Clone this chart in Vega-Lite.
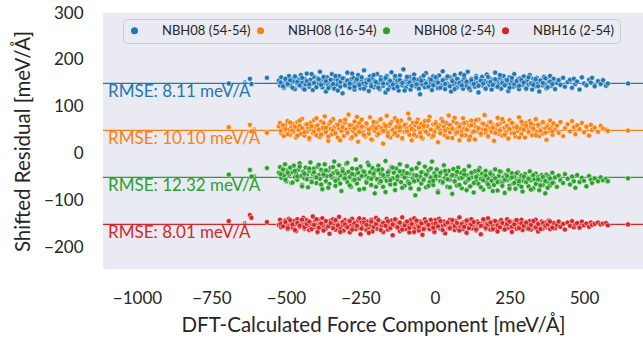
{
"$schema":"https://vega.github.io/schema/vega-lite/v6.json",
"width":540,"height":256,
"autosize":{"type":"none"},
"padding":{"left":103,"top":13,"right":0,"bottom":78},
"config":{
 "font":"Lato",
 "view":{"fill":"#EAEAF2","stroke":null},
 "axis":{"grid":false,"domain":false,"ticks":false,"labelFontSize":17,"labelColor":"#262626","titleFontSize":20.5,"titleColor":"#262626","titleFontWeight":"normal","labelFont":"Lato","titleFont":"Lato"},
 "axisX":{"labelPadding":21,"titlePadding":9},
 "axisY":{"labelPadding":20,"titlePadding":10}
},
"datasets":{
"lines":[{"y":150,"g":"NBH08 (54-54)"},{"y":50,"g":"NBH08 (16-54)"},{"y":-50,"g":"NBH08 (2-54)"},{"y":-150,"g":"NBH16 (2-54)"}],
"notes":[{"x":-1097,"y":121,"t":"RMSE: 8.11 meV/Å","g":"NBH08 (54-54)"},{"x":-1097,"y":21,"t":"RMSE: 10.10 meV/Å","g":"NBH08 (16-54)"},{"x":-1097,"y":-79,"t":"RMSE: 12.32 meV/Å","g":"NBH08 (2-54)"},{"x":-1097,"y":-179,"t":"RMSE: 8.01 meV/Å","g":"NBH16 (2-54)"}],
"pts":[
{"x":-692,"b":150,"o":57,"g":-44,"r":-143},
{"x":-621,"b":160,"o":62,"g":-34,"r":-130},
{"x":-616,"b":149,"o":48,"g":-48,"r":-136},
{"x":-564,"b":162,"o":45,"g":-30,"r":-145},
{"x":-524,"b":156,"o":59,"g":-40,"r":-151},
{"x":-520,"b":146,"o":66,"g":-28,"r":-140},
{"x":-516,"b":163,"o":44,"g":-51,"r":-156},
{"x":-511,"b":150,"o":55,"g":-37,"r":-147},
{"x":-507,"b":141,"o":38,"g":-46,"r":-153},
{"x":-503,"b":158,"o":62,"g":-22,"r":-142},
{"x":-499,"b":153,"o":49,"g":-58,"r":-149},
{"x":-495,"b":147,"o":70,"g":-35,"r":-160},
{"x":-490,"b":166,"o":52,"g":-44,"r":-138},
{"x":-486,"b":151,"o":41,"g":-30,"r":-152},
{"x":-482,"b":144,"o":58,"g":-62,"r":-146},
{"x":-478,"b":159,"o":64,"g":-39,"r":-157},
{"x":-474,"b":155,"o":47,"g":-25,"r":-143},
{"x":-470,"b":138,"o":56,"g":-49,"r":-150},
{"x":-466,"b":162,"o":35,"g":-41,"r":-164},
{"x":-462,"b":149,"o":68,"g":-55,"r":-139},
{"x":-458,"b":157,"o":51,"g":-33,"r":-148},
{"x":-454,"b":145,"o":60,"g":-20,"r":-155},
{"x":-450,"b":168,"o":43,"g":-47,"r":-144},
{"x":-446,"b":152,"o":75,"g":-66,"r":-151},
{"x":-442,"b":140,"o":54,"g":-38,"r":-136},
{"x":-438,"b":160,"o":39,"g":-52,"r":-159},
{"x":-434,"b":148,"o":63,"g":-29,"r":-147},
{"x":-430,"b":171,"o":48,"g":-44,"r":-141},
{"x":-426,"b":154,"o":57,"g":-71,"r":-153},
{"x":-422,"b":143,"o":31,"g":-36,"r":-162},
{"x":-418,"b":158,"o":66,"g":-18,"r":-145},
{"x":-414,"b":150,"o":52,"g":-57,"r":-149},
{"x":-410,"b":136,"o":45,"g":-43,"r":-133},
{"x":-406,"b":164,"o":72,"g":-31,"r":-156},
{"x":-402,"b":153,"o":58,"g":-49,"r":-143},
{"x":-398,"b":146,"o":40,"g":-62,"r":-151},
{"x":-394,"b":161,"o":61,"g":-27,"r":-166},
{"x":-390,"b":149,"o":50,"g":-45,"r":-140},
{"x":-386,"b":175,"o":36,"g":-53,"r":-148},
{"x":-382,"b":155,"o":69,"g":-34,"r":-157},
{"x":-378,"b":142,"o":55,"g":-75,"r":-137},
{"x":-374,"b":159,"o":44,"g":-40,"r":-152},
{"x":-370,"b":151,"o":80,"g":-22,"r":-146},
{"x":-366,"b":133,"o":47,"g":-58,"r":-159},
{"x":-362,"b":163,"o":59,"g":-47,"r":-144},
{"x":-358,"b":147,"o":28,"g":-35,"r":-150},
{"x":-354,"b":156,"o":65,"g":-64,"r":-170},
{"x":-350,"b":144,"o":53,"g":-29,"r":-142},
{"x":-346,"b":170,"o":42,"g":-50,"r":-154},
{"x":-342,"b":152,"o":74,"g":-41,"r":-139},
{"x":-338,"b":139,"o":57,"g":-16,"r":-148},
{"x":-334,"b":160,"o":46,"g":-68,"r":-161},
{"x":-330,"b":148,"o":63,"g":-37,"r":-145},
{"x":-326,"b":157,"o":35,"g":-55,"r":-153},
{"x":-322,"b":166,"o":55,"g":-24,"r":-134},
{"x":-318,"b":143,"o":70,"g":-46,"r":-158},
{"x":-314,"b":154,"o":49,"g":-79,"r":-147},
{"x":-310,"b":129,"o":60,"g":-33,"r":-151},
{"x":-306,"b":161,"o":38,"g":-52,"r":-163},
{"x":-302,"b":150,"o":67,"g":-42,"r":-141},
{"x":-298,"b":145,"o":52,"g":-21,"r":-156},
{"x":-294,"b":173,"o":44,"g":-60,"r":-149},
{"x":-290,"b":156,"o":84,"g":-38,"r":-143},
{"x":-286,"b":141,"o":57,"g":-49,"r":-167},
{"x":-282,"b":159,"o":33,"g":-70,"r":-152},
{"x":-278,"b":149,"o":62,"g":-31,"r":-138},
{"x":-274,"b":162,"o":48,"g":-56,"r":-155},
{"x":-270,"b":137,"o":69,"g":-44,"r":-146},
{"x":-266,"b":155,"o":41,"g":-12,"r":-160},
{"x":-262,"b":146,"o":58,"g":-63,"r":-150},
{"x":-258,"b":168,"o":26,"g":-40,"r":-142},
{"x":-254,"b":152,"o":66,"g":-53,"r":-157},
{"x":-250,"b":140,"o":51,"g":-27,"r":-171},
{"x":-246,"b":158,"o":73,"g":-48,"r":-145},
{"x":-242,"b":150,"o":45,"g":-36,"r":-153},
{"x":-238,"b":178,"o":59,"g":-74,"r":-139},
{"x":-234,"b":144,"o":37,"g":-45,"r":-148},
{"x":-230,"b":157,"o":64,"g":-58,"r":-162},
{"x":-226,"b":153,"o":54,"g":-19,"r":-144},
{"x":-222,"b":134,"o":43,"g":-51,"r":-156},
{"x":-218,"b":165,"o":78,"g":-39,"r":-151},
{"x":-214,"b":149,"o":56,"g":-66,"r":-140},
{"x":-210,"b":160,"o":30,"g":-30,"r":-165},
{"x":-206,"b":142,"o":61,"g":-47,"r":-147},
{"x":-202,"b":155,"o":49,"g":-84,"r":-154},
{"x":-198,"b":147,"o":67,"g":-35,"r":-136},
{"x":-194,"b":170,"o":40,"g":-54,"r":-159},
{"x":-190,"b":151,"o":58,"g":-25,"r":-149},
{"x":-186,"b":138,"o":72,"g":-61,"r":-143},
{"x":-182,"b":163,"o":46,"g":-42,"r":-158},
{"x":-178,"b":154,"o":55,"g":-33,"r":-152},
{"x":-174,"b":145,"o":22,"g":-70,"r":-166},
{"x":-170,"b":159,"o":63,"g":-49,"r":-145},
{"x":-166,"b":131,"o":51,"g":-15,"r":-150},
{"x":-162,"b":166,"o":81,"g":-57,"r":-138},
{"x":-158,"b":150,"o":44,"g":-44,"r":-161},
{"x":-154,"b":157,"o":60,"g":-36,"r":-147},
{"x":-150,"b":143,"o":35,"g":-65,"r":-155},
{"x":-146,"b":174,"o":68,"g":-28,"r":-142},
{"x":-142,"b":152,"o":53,"g":-52,"r":-173},
{"x":-138,"b":140,"o":42,"g":-40,"r":-149},
{"x":-134,"b":161,"o":76,"g":-77,"r":-153},
{"x":-130,"b":148,"o":57,"g":-31,"r":-140},
{"x":-126,"b":156,"o":39,"g":-55,"r":-157},
{"x":-122,"b":135,"o":65,"g":-46,"r":-146},
{"x":-118,"b":167,"o":50,"g":-22,"r":-164},
{"x":-114,"b":151,"o":71,"g":-60,"r":-151},
{"x":-110,"b":146,"o":32,"g":-43,"r":-135},
{"x":-106,"b":180,"o":59,"g":-37,"r":-156},
{"x":-102,"b":154,"o":47,"g":-68,"r":-148},
{"x":-98,"b":141,"o":63,"g":-50,"r":-160},
{"x":-94,"b":159,"o":54,"g":-26,"r":-144},
{"x":-90,"b":149,"o":86,"g":-59,"r":-152},
{"x":-86,"b":164,"o":41,"g":-41,"r":-167},
{"x":-82,"b":137,"o":58,"g":-73,"r":-141},
{"x":-78,"b":155,"o":29,"g":-34,"r":-155},
{"x":-74,"b":147,"o":66,"g":-52,"r":-149},
{"x":-70,"b":169,"o":50,"g":-45,"r":-137},
{"x":-66,"b":152,"o":61,"g":-88,"r":-158},
{"x":-62,"b":143,"o":38,"g":-30,"r":-146},
{"x":-58,"b":158,"o":73,"g":-56,"r":-153},
{"x":-54,"b":150,"o":55,"g":-20,"r":-163},
{"x":-50,"b":127,"o":45,"g":-48,"r":-144},
{"x":-46,"b":162,"o":64,"g":-63,"r":-150},
{"x":-42,"b":148,"o":33,"g":-39,"r":-172},
{"x":-38,"b":156,"o":57,"g":-55,"r":-147},
{"x":-34,"b":142,"o":70,"g":-27,"r":-139},
{"x":-30,"b":172,"o":48,"g":-71,"r":-157},
{"x":-26,"b":153,"o":59,"g":-44,"r":-151},
{"x":-22,"b":145,"o":42,"g":-35,"r":-145},
{"x":-18,"b":160,"o":79,"g":-60,"r":-160},
{"x":-14,"b":149,"o":52,"g":-50,"r":-142},
{"x":-10,"b":136,"o":36,"g":-16,"r":-154},
{"x":-6,"b":165,"o":63,"g":-66,"r":-148},
{"x":-2,"b":154,"o":47,"g":-41,"r":-166},
{"x":2,"b":147,"o":68,"g":-53,"r":-141},
{"x":6,"b":158,"o":55,"g":-33,"r":-156},
{"x":10,"b":140,"o":25,"g":-79,"r":-150},
{"x":14,"b":167,"o":61,"g":-46,"r":-138},
{"x":18,"b":151,"o":50,"g":-58,"r":-159},
{"x":22,"b":144,"o":74,"g":-38,"r":-147},
{"x":26,"b":176,"o":44,"g":-62,"r":-153},
{"x":30,"b":155,"o":58,"g":-24,"r":-144},
{"x":34,"b":138,"o":39,"g":-51,"r":-169},
{"x":38,"b":161,"o":66,"g":-43,"r":-152},
{"x":42,"b":150,"o":53,"g":-70,"r":-146},
{"x":46,"b":146,"o":82,"g":-36,"r":-158},
{"x":50,"b":163,"o":46,"g":-55,"r":-140},
{"x":54,"b":133,"o":60,"g":-47,"r":-151},
{"x":58,"b":157,"o":34,"g":-85,"r":-155},
{"x":62,"b":149,"o":70,"g":-32,"r":-148},
{"x":66,"b":168,"o":52,"g":-59,"r":-162},
{"x":70,"b":152,"o":43,"g":-44,"r":-143},
{"x":74,"b":142,"o":65,"g":-67,"r":-157},
{"x":78,"b":159,"o":56,"g":-29,"r":-150},
{"x":82,"b":147,"o":29,"g":-52,"r":-135},
{"x":86,"b":171,"o":62,"g":-40,"r":-154},
{"x":90,"b":154,"o":48,"g":-73,"r":-147},
{"x":94,"b":139,"o":76,"g":-49,"r":-160},
{"x":98,"b":162,"o":54,"g":-35,"r":-145},
{"x":102,"b":150,"o":40,"g":-61,"r":-152},
{"x":106,"b":145,"o":67,"g":-45,"r":-168},
{"x":110,"b":175,"o":51,"g":-56,"r":-141},
{"x":114,"b":153,"o":59,"g":-26,"r":-156},
{"x":118,"b":136,"o":37,"g":-69,"r":-149},
{"x":122,"b":160,"o":71,"g":-50,"r":-139},
{"x":126,"b":148,"o":46,"g":-41,"r":-158},
{"x":130,"b":156,"o":63,"g":-82,"r":-151},
{"x":134,"b":143,"o":31,"g":-37,"r":-146},
{"x":138,"b":166,"o":57,"g":-58,"r":-163},
{"x":142,"b":151,"o":49,"g":-46,"r":-144},
{"x":146,"b":131,"o":73,"g":-64,"r":-155},
{"x":150,"b":158,"o":54,"g":-30,"r":-150},
{"x":154,"b":149,"o":41,"g":-53,"r":-171},
{"x":158,"b":164,"o":65,"g":-42,"r":-147},
{"x":162,"b":145,"o":52,"g":-76,"r":-153},
{"x":166,"b":155,"o":83,"g":-48,"r":-142},
{"x":170,"b":140,"o":45,"g":-36,"r":-159},
{"x":174,"b":169,"o":60,"g":-61,"r":-148},
{"x":178,"b":152,"o":36,"g":-52,"r":-137},
{"x":182,"b":147,"o":68,"g":-70,"r":-154},
{"x":186,"b":160,"o":55,"g":-39,"r":-161},
{"x":190,"b":137,"o":47,"g":-57,"r":-146},
{"x":194,"b":157,"o":62,"g":-45,"r":-152},
{"x":198,"b":150,"o":28,"g":-66,"r":-143},
{"x":202,"b":173,"o":58,"g":-33,"r":-158},
{"x":206,"b":144,"o":50,"g":-54,"r":-150},
{"x":210,"b":156,"o":77,"g":-78,"r":-165},
{"x":214,"b":148,"o":43,"g":-47,"r":-145},
{"x":218,"b":162,"o":64,"g":-59,"r":-155},
{"x":222,"b":139,"o":53,"g":-38,"r":-141},
{"x":226,"b":154,"o":39,"g":-62,"r":-149},
{"x":230,"b":166,"o":69,"g":-50,"r":-160},
{"x":234,"b":146,"o":56,"g":-83,"r":-147},
{"x":238,"b":158,"o":46,"g":-44,"r":-153},
{"x":242,"b":151,"o":61,"g":-56,"r":-139},
{"x":246,"b":134,"o":33,"g":-35,"r":-157},
{"x":250,"b":163,"o":72,"g":-68,"r":-150},
{"x":254,"b":149,"o":52,"g":-52,"r":-144},
{"x":258,"b":156,"o":44,"g":-41,"r":-166},
{"x":262,"b":143,"o":65,"g":-63,"r":-148},
{"x":266,"b":170,"o":57,"g":-49,"r":-155},
{"x":270,"b":152,"o":37,"g":-74,"r":-142},
{"x":274,"b":145,"o":60,"g":-57,"r":-159},
{"x":278,"b":159,"o":49,"g":-39,"r":-151},
{"x":282,"b":138,"o":78,"g":-65,"r":-146},
{"x":286,"b":161,"o":54,"g":-53,"r":-156},
{"x":290,"b":150,"o":42,"g":-46,"r":-140},
{"x":294,"b":147,"o":63,"g":-80,"r":-162},
{"x":298,"b":165,"o":51,"g":-58,"r":-149},
{"x":302,"b":153,"o":35,"g":-43,"r":-153},
{"x":306,"b":141,"o":66,"g":-60,"r":-145},
{"x":310,"b":157,"o":56,"g":-51,"r":-158},
{"x":314,"b":148,"o":45,"g":-69,"r":-150},
{"x":318,"b":168,"o":70,"g":-37,"r":-143},
{"x":322,"b":151,"o":58,"g":-56,"r":-161},
{"x":326,"b":137,"o":40,"g":-47,"r":-154},
{"x":330,"b":160,"o":62,"g":-73,"r":-147},
{"x":334,"b":154,"o":50,"g":-54,"r":-157},
{"x":338,"b":144,"o":74,"g":-42,"r":-140},
{"x":342,"b":162,"o":47,"g":-62,"r":-152},
{"x":346,"b":150,"o":59,"g":-49,"r":-165},
{"x":350,"b":133,"o":38,"g":-77,"r":-148},
{"x":354,"b":158,"o":64,"g":-55,"r":-155},
{"x":358,"b":152,"o":53,"g":-45,"r":-144},
{"x":362,"b":146,"o":43,"g":-66,"r":-159},
{"x":366,"b":164,"o":67,"g":-52,"r":-150},
{"x":370,"b":149,"o":55,"g":-84,"r":-146},
{"x":374,"b":140,"o":30,"g":-44,"r":-156},
{"x":378,"b":157,"o":61,"g":-59,"r":-152},
{"x":382,"b":153,"o":49,"g":-48,"r":-142},
{"x":386,"b":166,"o":71,"g":-67,"r":-160},
{"x":390,"b":145,"o":57,"g":-55,"r":-149},
{"x":394,"b":155,"o":41,"g":-40,"r":-154},
{"x":398,"b":160,"o":65,"g":-61,"r":-147},
{"x":403,"b":138,"o":52,"g":-50,"r":-158},
{"x":409,"b":151,"o":60,"g":-70,"r":-151},
{"x":415,"b":157,"o":45,"g":-46,"r":-144},
{"x":421,"b":147,"o":68,"g":-56,"r":-155},
{"x":430,"b":162,"o":38,"g":-62,"r":-149},
{"x":436,"b":143,"o":55,"g":-43,"r":-161},
{"x":445,"b":153,"o":63,"g":-53,"r":-146},
{"x":453,"b":158,"o":48,"g":-65,"r":-153},
{"x":460,"b":141,"o":70,"g":-48,"r":-143},
{"x":466,"b":160,"o":57,"g":-58,"r":-156},
{"x":471,"b":149,"o":42,"g":-72,"r":-150},
{"x":477,"b":154,"o":61,"g":-45,"r":-147},
{"x":485,"b":137,"o":53,"g":-60,"r":-157},
{"x":493,"b":163,"o":66,"g":-51,"r":-144},
{"x":500,"b":150,"o":46,"g":-57,"r":-152},
{"x":508,"b":146,"o":58,"g":-69,"r":-148},
{"x":517,"b":158,"o":39,"g":-47,"r":-155},
{"x":523,"b":152,"o":62,"g":-55,"r":-146},
{"x":527,"b":162,"o":51,"g":-62,"r":-151},
{"x":536,"b":144,"o":56,"g":-52,"r":-149},
{"x":547,"b":155,"o":47,"g":-58,"r":-146},
{"x":556,"b":149,"o":60,"g":-50,"r":-150},
{"x":564,"b":157,"o":54,"g":-56,"r":-148},
{"x":574,"b":145,"o":52,"g":-53,"r":-147},
{"x":580,"b":150,"o":49,"g":-58,"r":-152},
{"x":648,"b":150,"o":50,"g":-52,"r":-150},
{"x":-518,"b":152,"o":49,"g":-43,"r":-149},
{"x":-510,"b":144,"o":61,"g":-33,"r":-154},
{"x":-502,"b":160,"o":53,"g":-55,"r":-145},
{"x":-494,"b":149,"o":42,"g":-40,"r":-158},
{"x":-486,"b":157,"o":67,"g":-29,"r":-141},
{"x":-478,"b":141,"o":50,"g":-61,"r":-150},
{"x":-470,"b":165,"o":58,"g":-36,"r":-162},
{"x":-462,"b":153,"o":39,"g":-48,"r":-147},
{"x":-454,"b":146,"o":71,"g":-27,"r":-153},
{"x":-446,"b":162,"o":55,"g":-69,"r":-140},
{"x":-438,"b":137,"o":46,"g":-42,"r":-156},
{"x":-430,"b":155,"o":63,"g":-54,"r":-149},
{"x":-422,"b":148,"o":34,"g":-31,"r":-144},
{"x":-414,"b":170,"o":59,"g":-60,"r":-160},
{"x":-406,"b":151,"o":48,"g":-39,"r":-151},
{"x":-398,"b":142,"o":76,"g":-50,"r":-139},
{"x":-390,"b":159,"o":52,"g":-23,"r":-157},
{"x":-382,"b":147,"o":41,"g":-65,"r":-148},
{"x":-374,"b":164,"o":66,"g":-44,"r":-163},
{"x":-366,"b":155,"o":56,"g":-35,"r":-143},
{"x":-358,"b":140,"o":37,"g":-72,"r":-154},
{"x":-350,"b":158,"o":69,"g":-46,"r":-147},
{"x":-342,"b":149,"o":50,"g":-28,"r":-158},
{"x":-334,"b":166,"o":44,"g":-57,"r":-141},
{"x":-326,"b":135,"o":62,"g":-41,"r":-152},
{"x":-318,"b":153,"o":29,"g":-63,"r":-166},
{"x":-310,"b":161,"o":57,"g":-37,"r":-145},
{"x":-302,"b":146,"o":73,"g":-52,"r":-150},
{"x":-294,"b":156,"o":45,"g":-19,"r":-156},
{"x":-286,"b":150,"o":61,"g":-67,"r":-143},
{"x":-278,"b":171,"o":36,"g":-43,"r":-161},
{"x":-270,"b":143,"o":54,"g":-55,"r":-148},
{"x":-262,"b":159,"o":79,"g":-32,"r":-153},
{"x":-254,"b":147,"o":47,"g":-76,"r":-137},
{"x":-246,"b":163,"o":58,"g":-47,"r":-159},
{"x":-238,"b":139,"o":40,"g":-38,"r":-146},
{"x":-230,"b":152,"o":65,"g":-61,"r":-151},
{"x":-222,"b":157,"o":52,"g":-24,"r":-168},
{"x":-214,"b":144,"o":31,"g":-53,"r":-144},
{"x":-206,"b":168,"o":68,"g":-42,"r":-155},
{"x":-198,"b":153,"o":55,"g":-70,"r":-149},
{"x":-190,"b":141,"o":43,"g":-34,"r":-141},
{"x":-182,"b":158,"o":74,"g":-58,"r":-162},
{"x":-174,"b":150,"o":49,"g":-45,"r":-147},
{"x":-166,"b":162,"o":60,"g":-81,"r":-153},
{"x":-158,"b":137,"o":38,"g":-39,"r":-143},
{"x":-150,"b":155,"o":64,"g":-56,"r":-158},
{"x":-142,"b":148,"o":51,"g":-29,"r":-150},
{"x":-134,"b":166,"o":45,"g":-64,"r":-139},
{"x":-126,"b":143,"o":70,"g":-48,"r":-156},
{"x":-118,"b":157,"o":57,"g":-37,"r":-146},
{"x":-110,"b":151,"o":34,"g":-72,"r":-161},
{"x":-102,"b":135,"o":62,"g":-50,"r":-152},
{"x":-94,"b":164,"o":48,"g":-41,"r":-144},
{"x":-86,"b":152,"o":75,"g":-63,"r":-157},
{"x":-78,"b":145,"o":53,"g":-33,"r":-149},
{"x":-70,"b":160,"o":41,"g":-58,"r":-166},
{"x":-62,"b":148,"o":67,"g":-46,"r":-142},
{"x":-54,"b":139,"o":56,"g":-75,"r":-155},
{"x":-46,"b":156,"o":36,"g":-39,"r":-148},
{"x":-38,"b":167,"o":60,"g":-55,"r":-160},
{"x":-30,"b":150,"o":47,"g":-44,"r":-145},
{"x":-22,"b":143,"o":71,"g":-68,"r":-151},
{"x":-14,"b":158,"o":52,"g":-31,"r":-140},
{"x":-6,"b":146,"o":39,"g":-57,"r":-157},
{"x":2,"b":163,"o":64,"g":-47,"r":-148},
{"x":10,"b":152,"o":57,"g":-82,"r":-154},
{"x":18,"b":141,"o":44,"g":-40,"r":-143},
{"x":26,"b":157,"o":69,"g":-60,"r":-162},
{"x":34,"b":149,"o":50,"g":-36,"r":-150},
{"x":42,"b":165,"o":35,"g":-54,"r":-146},
{"x":50,"b":144,"o":62,"g":-71,"r":-158},
{"x":58,"b":155,"o":54,"g":-45,"r":-141},
{"x":66,"b":138,"o":77,"g":-58,"r":-153},
{"x":74,"b":160,"o":46,"g":-38,"r":-147},
{"x":82,"b":151,"o":58,"g":-66,"r":-163},
{"x":90,"b":146,"o":40,"g":-51,"r":-149},
{"x":98,"b":168,"o":66,"g":-44,"r":-155},
{"x":106,"b":154,"o":52,"g":-77,"r":-142},
{"x":114,"b":140,"o":30,"g":-53,"r":-158},
{"x":122,"b":157,"o":61,"g":-40,"r":-150},
{"x":130,"b":149,"o":48,"g":-62,"r":-145},
{"x":138,"b":162,"o":72,"g":-49,"r":-161},
{"x":146,"b":145,"o":55,"g":-35,"r":-148},
{"x":154,"b":156,"o":43,"g":-71,"r":-153},
{"x":162,"b":150,"o":64,"g":-56,"r":-139},
{"x":170,"b":139,"o":51,"g":-46,"r":-157},
{"x":178,"b":164,"o":38,"g":-65,"r":-150},
{"x":186,"b":153,"o":68,"g":-42,"r":-146},
{"x":194,"b":147,"o":56,"g":-79,"r":-160},
{"x":202,"b":159,"o":45,"g":-52,"r":-143},
{"x":210,"b":143,"o":62,"g":-60,"r":-152},
{"x":218,"b":168,"o":50,"g":-37,"r":-156},
{"x":226,"b":151,"o":74,"g":-68,"r":-147},
{"x":234,"b":146,"o":41,"g":-55,"r":-161},
{"x":242,"b":157,"o":59,"g":-47,"r":-149},
{"x":250,"b":141,"o":53,"g":-74,"r":-144},
{"x":258,"b":162,"o":66,"g":-50,"r":-155},
{"x":266,"b":149,"o":44,"g":-62,"r":-150},
{"x":274,"b":155,"o":57,"g":-41,"r":-141},
{"x":282,"b":145,"o":35,"g":-58,"r":-158},
{"x":290,"b":158,"o":69,"g":-70,"r":-148},
{"x":298,"b":152,"o":52,"g":-48,"r":-153},
{"x":306,"b":139,"o":60,"g":-60,"r":-146},
{"x":314,"b":163,"o":47,"g":-53,"r":-159},
{"x":322,"b":150,"o":65,"g":-76,"r":-151},
{"x":330,"b":147,"o":54,"g":-45,"r":-143},
{"x":338,"b":159,"o":40,"g":-64,"r":-156},
{"x":346,"b":144,"o":62,"g":-54,"r":-149},
{"x":354,"b":156,"o":50,"g":-67,"r":-160},
{"x":362,"b":151,"o":68,"g":-49,"r":-147},
{"x":370,"b":161,"o":45,"g":-58,"r":-153},
{"x":378,"b":142,"o":57,"g":-72,"r":-150},
{"x":386,"b":154,"o":53,"g":-52,"r":-144},
{"x":394,"b":149,"o":48,"g":-62,"r":-157}
]},
"encoding":{
 "x":{"field":"x","type":"quantitative","scale":{"domain":[-1114,698],"nice":false,"zero":false},"axis":{"values":[-1000,-750,-500,-250,0,250,500],"format":"d","title":"DFT-Calculated Force Component [meV/Å]"}}
},
"layer":[
 {"data":{"name":"lines"},"mark":{"type":"rule","strokeWidth":1.2},
  "encoding":{"x":null,"y":{"field":"y","type":"quantitative","scale":{"domain":[-245,300],"nice":false,"zero":false},"axis":{"values":[-200,-100,0,100,200,300],"format":"d","title":"Shifted Residual [meV/Å]"}},
   "stroke":{"field":"g","type":"nominal","legend":null,"scale":{"domain":["NBH08 (16-54)","NBH08 (2-54)","NBH08 (54-54)","NBH16 (2-54)"],"range":["#ff7f0e","#2ca02c","#1f77b4","#d62728"]}}}},
 {"data":{"name":"pts"},"mark":{"type":"point","filled":true,"size":26,"opacity":1,"stroke":"white","strokeWidth":0.5},
  "encoding":{"y":{"field":"b","type":"quantitative"},"color":{"datum":"NBH08 (54-54)","type":"nominal","scale":{"domain":["NBH08 (54-54)","NBH08 (16-54)","NBH08 (2-54)","NBH16 (2-54)"],"range":["#1f77b4","#ff7f0e","#2ca02c","#d62728"]},
   "legend":{"orient":"none","legendX":20,"legendY":6,"direction":"horizontal","title":null,"fillColor":"#EAEAF2","strokeColor":"#cccccc","cornerRadius":4,"padding":5,"labelFont":"Lato","labelFontSize":13,"labelColor":"#262626","symbolType":"circle","symbolSize":50,"symbolStrokeWidth":0,"labelOffset":21,"columnPadding":3}}}},
 {"data":{"name":"pts"},"mark":{"type":"point","filled":true,"size":26,"opacity":1,"stroke":"white","strokeWidth":0.5},
  "encoding":{"y":{"field":"o","type":"quantitative"},"color":{"datum":"NBH08 (16-54)","type":"nominal"}}},
 {"data":{"name":"pts"},"mark":{"type":"point","filled":true,"size":26,"opacity":1,"stroke":"white","strokeWidth":0.5},
  "encoding":{"y":{"field":"g","type":"quantitative"},"color":{"datum":"NBH08 (2-54)","type":"nominal"}}},
 {"data":{"name":"pts"},"mark":{"type":"point","filled":true,"size":26,"opacity":1,"stroke":"white","strokeWidth":0.5},
  "encoding":{"y":{"field":"r","type":"quantitative"},"color":{"datum":"NBH16 (2-54)","type":"nominal"}}},
 {"data":{"name":"notes"},"mark":{"type":"text","align":"left","baseline":"alphabetic","fontSize":17,"font":"Lato"},
  "encoding":{"y":{"field":"y","type":"quantitative"},"text":{"field":"t"},"fill":{"field":"g","type":"nominal","legend":null,"scale":{"domain":["NBH08 (16-54)","NBH08 (2-54)","NBH08 (54-54)","NBH16 (2-54)"],"range":["#ff7f0e","#2ca02c","#1f77b4","#d62728"]}}}}
]
}
